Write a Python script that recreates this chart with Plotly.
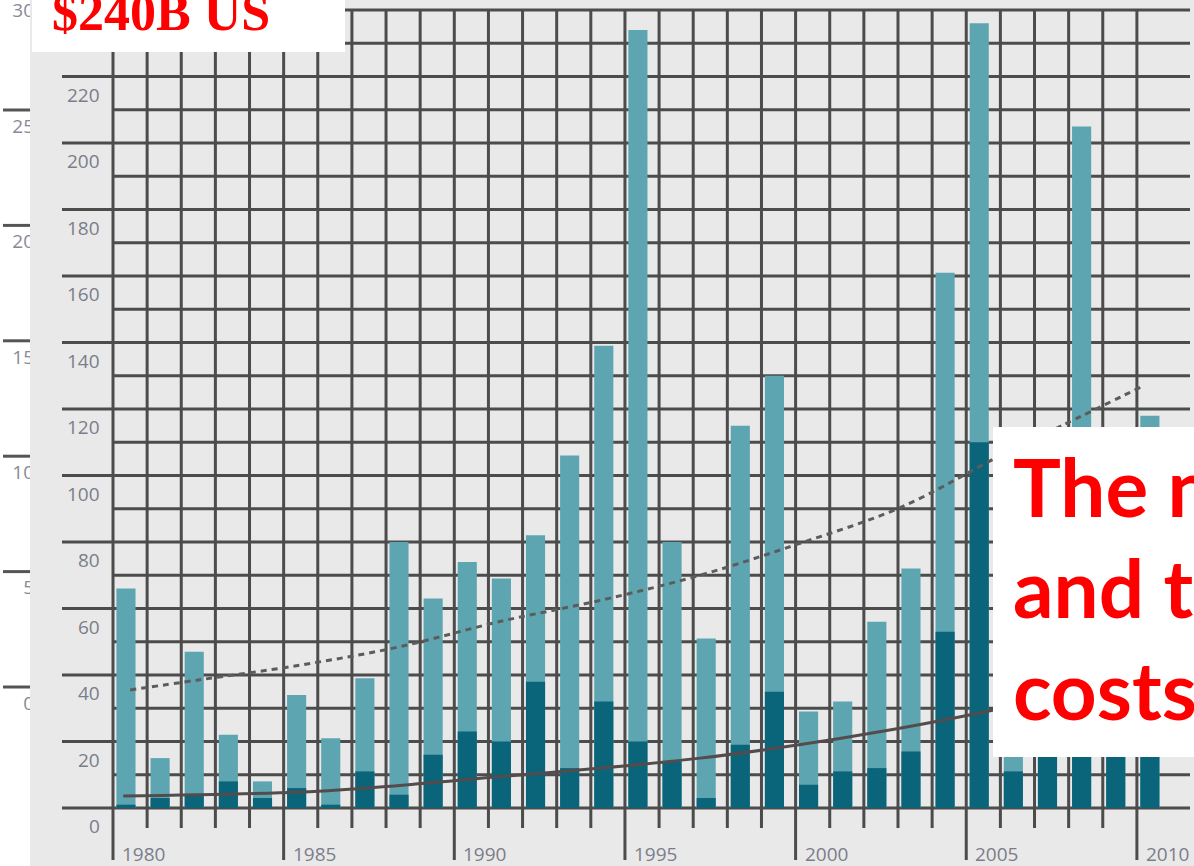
import plotly.graph_objects as go

# ---- data ----
years = list(range(1980, 2011))
overall_losses = [66, 15, 47, 22, 8, 34, 21, 39, 80, 63,
                  74, 69, 82, 106, 139, 234, 80, 51, 115, 130,
                  29, 32, 56, 72, 161, 236, 48, 80, 205, 60, 118]
insured_losses = [1, 3, 4, 8, 3, 6, 1, 11, 4, 16,
                  23, 20, 38, 12, 32, 20, 14, 3, 19, 35,
                  7, 11, 12, 17, 53, 110, 11, 25, 50, 22, 38]
trend_overall_x = [1980.5, 1982.5, 1985.5, 1988.4, 1991.3, 1994.3,
                   1997.2, 2000.1, 2003.1, 2006.0, 2007.8, 2010.2]
trend_overall_y = [35.5, 38.5, 43, 48.5, 56, 62.5, 70, 79.5, 90.5, 106, 115, 127]
trend_insured_x = [1980.3, 1985.5, 1988.4, 1991.3, 1994.3, 1997.2,
                   2000.1, 2002.5, 2005.8, 2010.2]
trend_insured_y = [3.6, 4.8, 6.8, 9.4, 12, 15, 19, 23, 29.5, 40]
x_tick_years = [1980, 1985, 1990, 1995, 2000, 2005, 2010]
y_tick_values = list(range(0, 221, 20))
grid_values = list(range(0, 241, 10))
side_tick_values = [0, 5, 10, 15, 20, 25, 30]

# ---- geometry ----
W, H = 1194, 866
X0_PX, YEAR_PX = 113, 34.13      # 1980 gridline, pixels per year
Y0_PX, UNIT_PX = 808, 3.325      # zero line, pixels per unit
S0_PX, S_UNIT_PX = 687, 23.08    # side scale zero line, pixels per unit


def xd(px):
    return 1980 + (px - X0_PX) / YEAR_PX


def yd(py):
    return (Y0_PX - py) / UNIT_PX


def sd(py):
    return (S0_PX - py) / S_UNIT_PX


LIGHT = "#5da6b1"
DARK = "#0b657a"
GRID = "#4c4c4c"
BG = "#e9e9e9"
LABEL = "#7b7d8a"
label_font = dict(family="Open Sans", size=19, color=LABEL)

fig = go.Figure()

fig.add_trace(go.Bar(x=years, y=overall_losses, width=0.56, offset=0.1,
                     marker=dict(color=LIGHT, line=dict(width=0)),
                     name="Overall losses"))
fig.add_trace(go.Bar(x=years, y=insured_losses, width=0.56, offset=0.1,
                     marker=dict(color=DARK, line=dict(width=0)),
                     name="Insured losses"))
fig.add_trace(go.Scatter(x=trend_overall_x, y=trend_overall_y, mode="lines",
                         line=dict(color="#5c5c5c", width=3, dash="6px,5px",
                                   shape="spline")))
fig.add_trace(go.Scatter(x=trend_insured_x, y=trend_insured_y, mode="lines",
                         line=dict(color="#544c4c", width=3, shape="spline")))

# side scale labels, clipped by their narrow subplot
fig.add_trace(go.Scatter(
    x=[34] * len(side_tick_values),
    y=[v - 18 / S_UNIT_PX for v in side_tick_values],
    text=[str(v) for v in side_tick_values],
    mode="text", textposition="middle left",
    textfont=dict(family="Open Sans", size=19, color="#8a8a96"),
    xaxis="x2", yaxis="y2", cliponaxis=True))

shapes = []
# chart background
shapes.append(dict(type="rect", xref="paper", yref="paper", x0=30 / W, x1=1,
                   y0=0, y1=1, fillcolor=BG, line=dict(width=0), layer="below"))
# horizontal grid
for v in grid_values:
    start = xd(62) if v % 20 == 0 else 1980
    shapes.append(dict(type="line", xref="x", yref="y", x0=start, x1=xd(1190),
                       y0=v, y1=v, line=dict(color=GRID, width=3), layer="below"))
# vertical grid with ticks
for yr in years:
    bottom = yd(860) if yr % 5 == 0 else yd(828)
    shapes.append(dict(type="line", xref="x", yref="y", x0=yr, x1=yr,
                       y0=bottom, y1=grid_values[-1],
                       line=dict(color=GRID, width=3), layer="below"))
# side scale ticks
for v in side_tick_values:
    shapes.append(dict(type="line", xref="paper", yref="y2", x0=3 / W, x1=30 / W,
                       y0=v, y1=v, line=dict(color="#555555", width=3),
                       layer="below"))
# white caption panels
shapes.append(dict(type="rect", xref="paper", yref="paper", x0=32 / W, x1=345 / W,
                   y0=1 - 52 / H, y1=1.02, fillcolor="white",
                   line=dict(width=0), layer="above"))
shapes.append(dict(type="rect", xref="paper", yref="paper", x0=993 / W, x1=1.02,
                   y0=1 - 757 / H, y1=1 - 427 / H, fillcolor="white",
                   line=dict(width=0), layer="above"))

annotations = []
for yr in x_tick_years:
    annotations.append(dict(x=yr, xref="x", xanchor="left", xshift=7,
                            y=yd(854), yref="y", yanchor="middle",
                            text=str(yr), font=label_font, showarrow=False))
for v in y_tick_values:
    annotations.append(dict(x=102 / W, xref="paper", xanchor="right",
                            y=v, yref="y", yshift=-18, yanchor="middle",
                            text=str(v), font=label_font, showarrow=False))
annotations.append(dict(x=50 / W, xref="paper", xanchor="left",
                        y=1 - 12 / H, yref="paper", yanchor="middle",
                        text="$240B US", showarrow=False,
                        font=dict(family="Liberation Serif", size=52,
                                  color="#ff0000", weight="bold")))
for line_text, base in [("The number", 517), ("and their", 618), ("costs", 720)]:
    annotations.append(dict(x=1011 / W, xref="paper", xanchor="left",
                            y=1 - (base - 31) / H, yref="paper", yanchor="middle",
                            text=line_text, showarrow=False,
                            font=dict(family="Lato", size=80,
                                      color="#ff0000", weight="bold")))

fig.update_layout(
    width=W, height=H, autosize=False,
    margin=dict(l=0, r=0, t=0, b=0, pad=0),
    paper_bgcolor="white", plot_bgcolor="rgba(0,0,0,0)",
    barmode="overlay", showlegend=False,
    xaxis=dict(domain=[0, 1], range=[xd(0), xd(W)], visible=False,
               fixedrange=True),
    yaxis=dict(domain=[0, 1], range=[yd(H), yd(0)], visible=False,
               fixedrange=True),
    xaxis2=dict(domain=[0, 30 / W], range=[0, 30], visible=False,
                anchor="y2", fixedrange=True),
    yaxis2=dict(domain=[0, 1], range=[sd(H), sd(0)], visible=False,
                anchor="x2", fixedrange=True),
    shapes=shapes, annotations=annotations,
)

fig.write_html("out.html")
